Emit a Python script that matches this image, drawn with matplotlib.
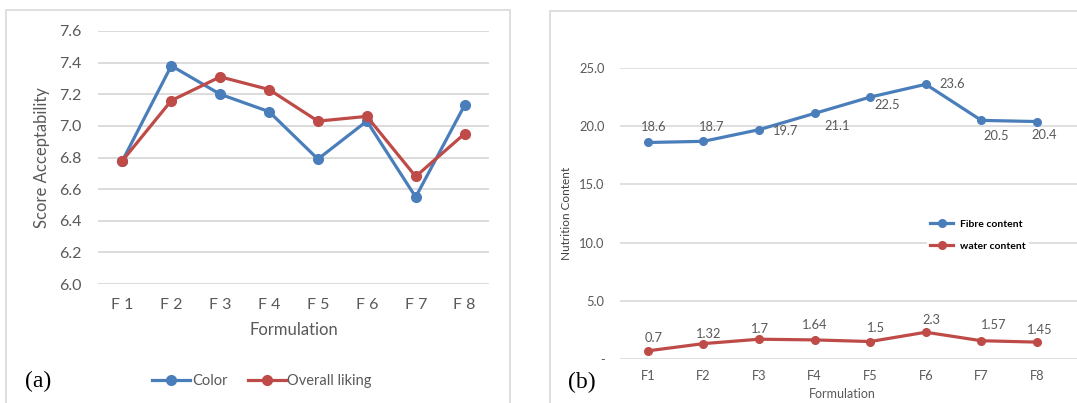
import numpy as np
import matplotlib.pyplot as plt
import matplotlib.patches as mpatches

# data
cats_a = ['F 1', 'F 2', 'F 3', 'F 4', 'F 5', 'F 6', 'F 7', 'F 8']
color_score = [6.78, 7.38, 7.20, 7.09, 6.79, 7.03, 6.55, 7.13]
overall_liking = [6.78, 7.16, 7.31, 7.23, 7.03, 7.06, 6.68, 6.95]

cats_b = ['F1', 'F2', 'F3', 'F4', 'F5', 'F6', 'F7', 'F8']
fibre = [18.6, 18.7, 19.7, 21.1, 22.5, 23.6, 20.5, 20.4]
water = [0.7, 1.32, 1.7, 1.64, 1.5, 2.3, 1.57, 1.45]
fibre_lbl = ['18.6', '18.7', '19.7', '21.1', '22.5', '23.6', '20.5', '20.4']
water_lbl = ['0.7', '1.32', '1.7', '1.64', '1.5', '2.3', '1.57', '1.45']

# label offsets in points
fibre_off = [(4, 11), (6, 10), (19, -1), (16, -9), (12, -6), (19, 0), (11, -11), (5, -10)]
water_off = [(4, 9), (4, 7), (1, 7), (0, 11), (4, 10), (4, 9), (9, 11), (2, 9)]

BLUE = '#4a7ebb'
RED = '#be4b48'
GRID = '#d9d9d9'
TXT = '#595959'

plt.rcParams['font.family'] = ['Lato', 'DejaVu Sans']

W, H = 1077, 403
fig = plt.figure(figsize=(W / 100, H / 100), dpi=100)


def fbox(x0, y0, x1, y1):
    # pixel box (top-left origin) -> figure fraction rect
    return [x0 / W, 1 - y1 / H, (x1 - x0) / W, (y1 - y0) / H]


# panel borders
for x0, y0, x1, y1 in [(6, 10, 510, 420), (550, 11, 1100, 420)]:
    r = mpatches.Rectangle((x0 / W, 1 - y1 / H), (x1 - x0) / W, (y1 - y0) / H,
                           transform=fig.transFigure, fill=False, ec=GRID, lw=1.2)
    fig.add_artist(r)

# ---- panel (a)
ax1 = fig.add_axes(fbox(98, 31, 489, 284))
x = np.arange(len(cats_a))
ax1.plot(x, color_score, color=BLUE, lw=2.3, marker='o', ms=7, label='Color', clip_on=False)
ax1.plot(x, overall_liking, color=RED, lw=2.3, marker='o', ms=7, label='Overall liking', clip_on=False)
ax1.set_xlim(-0.5, 7.5)
ax1.set_ylim(6.0, 7.6)
ax1.set_yticks(np.arange(6.0, 7.61, 0.2))
ax1.yaxis.set_major_formatter(plt.FuncFormatter(lambda v, p: f'{v:.1f}'))
ax1.set_xticks(x)
ax1.set_xticklabels(cats_a)
ax1.grid(axis='y', color=GRID, lw=1.3)
ax1.set_axisbelow(True)
for s in ax1.spines.values():
    s.set_visible(False)
ax1.tick_params(length=0, labelsize=11.5, colors=TXT)
ax1.tick_params(axis='y', pad=12)
ax1.tick_params(axis='x', pad=10)
ax1.set_xlabel('Formulation', fontsize=12, color=TXT, labelpad=7)
ax1.set_ylabel('Score Acceptability', fontsize=12, color=TXT, labelpad=6)
fig.legend(handles=ax1.get_lines(), loc='center', bbox_to_anchor=(262 / W, 1 - 381 / H),
           ncol=2, frameon=False, fontsize=10.5, handlelength=2.6, handletextpad=0.1,
           columnspacing=1.4, labelcolor=TXT)
fig.text(38 / W, 1 - 381 / H, '(a)', family='Liberation Serif', fontsize=17,
         ha='center', va='center')

# ---- panel (b)
ax2 = fig.add_axes(fbox(620, 68, 1077, 359))
xb = np.arange(len(cats_b))
ax2.plot(xb, fibre, color=BLUE, lw=2.3, marker='o', ms=5.5, label='Fibre content')
ax2.plot(xb, water, color=RED, lw=2.3, marker='o', ms=5.5, label='water content')
for i in range(len(xb)):
    ax2.annotate(fibre_lbl[i], (xb[i], fibre[i]), xytext=fibre_off[i], textcoords='offset points',
                 ha='center', va='center', fontsize=9.3, color=TXT)
    ax2.annotate(water_lbl[i], (xb[i], water[i]), xytext=water_off[i], textcoords='offset points',
                 ha='center', va='center', fontsize=9.3, color=TXT)
ax2.set_xlim(-0.5, 7.72)
ax2.set_ylim(0, 25)
ax2.set_yticks(np.arange(0, 25.1, 5))
ax2.yaxis.set_major_formatter(plt.FuncFormatter(lambda v, p: '-' if v == 0 else f'{v:.1f}'))
ax2.set_xticks(xb)
ax2.set_xticklabels(cats_b)
ax2.grid(axis='y', color=GRID, lw=1.2)
ax2.set_axisbelow(True)
for s in ax2.spines.values():
    s.set_visible(False)
ax2.tick_params(length=0, labelsize=9.3, colors=TXT)
ax2.tick_params(axis='y', pad=11)
ax2.tick_params(axis='x', pad=8)
ax2.set_xlabel('Formulation', fontsize=9, color=TXT)
ax2.xaxis.set_label_coords((842 - 620) / 457, -0.10)
ax2.set_ylabel('Nutrition Content', fontsize=8.5, color='#404040', labelpad=5)
leg = ax2.legend(loc='center', bbox_to_anchor=(978 / W, 1 - 235 / H),
                 bbox_transform=fig.transFigure, frameon=True, fontsize=7.5,
                 handlelength=2.2, handletextpad=0.7, labelspacing=1.2, borderpad=0.3)
leg.get_frame().set_edgecolor('none')
leg.get_frame().set_facecolor('white')
leg.get_frame().set_alpha(1)
for t in leg.get_texts():
    t.set_fontweight('bold')
fig.text(582 / W, 1 - 382 / H, '(b)', family='Liberation Serif', fontsize=17,
         ha='center', va='center')

fig.savefig('out.png', dpi=100)
